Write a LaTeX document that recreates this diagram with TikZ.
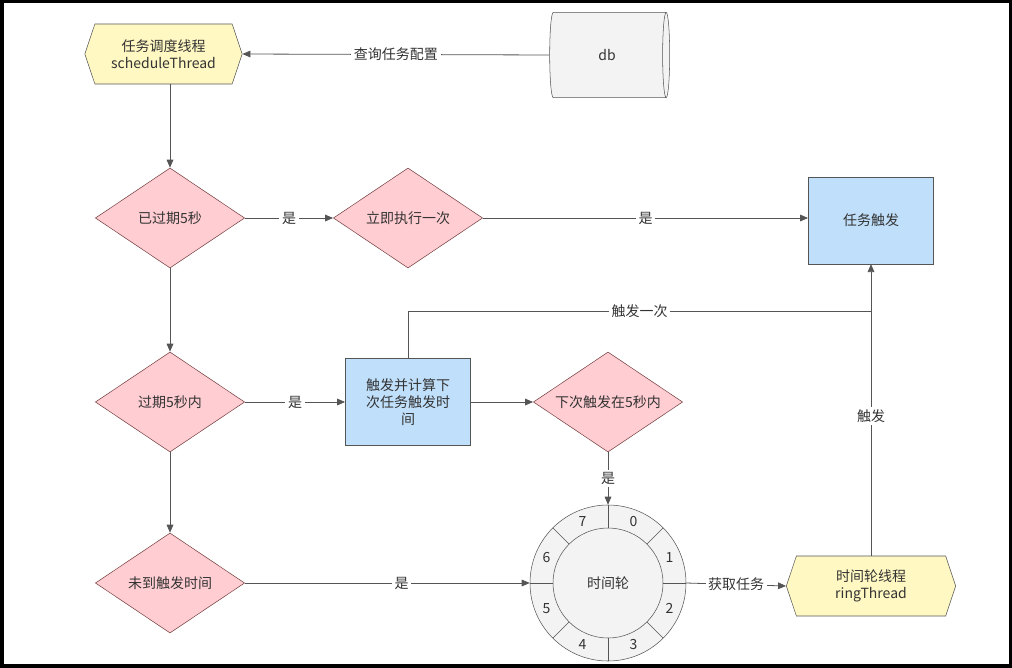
\documentclass[tikz,border=0pt]{standalone}
\usepackage{fontspec}
\setmainfont{Noto Sans CJK SC}
\usetikzlibrary{shapes.geometric,shapes.symbols,arrows.meta}
\definecolor{ln}{HTML}{555555}
\definecolor{ylw}{HTML}{FFF8C2}
\definecolor{pnk}{HTML}{FFCDD2}
\definecolor{blu}{HTML}{BFDFFA}
\definecolor{gry}{HTML}{F3F3F3}
\tikzset{
  every node/.style={font=\fontsize{10.5pt}{13pt}\selectfont, text=black!80},
  hexa/.style={draw=ln, fill=ylw, signal, signal to=east and west, signal pointer angle=143, minimum width=118pt, minimum height=45pt, inner sep=1pt, align=center},
  dia/.style={draw=ln!80!red, fill=pnk, diamond, aspect=1.5, minimum width=112pt, minimum height=75pt, inner sep=0pt, align=center},
  box/.style={draw=ln, fill=blu, minimum width=94pt, minimum height=65pt, align=center},
  arr/.style={draw=ln, -{Triangle[length=6pt,width=5pt]}, line width=0.6pt},
  lab/.style={fill=white, inner sep=2pt},
}
\begin{document}
\begin{tikzpicture}[x=0.75pt,y=-0.75pt]
\useasboundingbox (0,0) rectangle (1012,667);
\draw[line width=3pt] (1.5,1.5) rectangle (1010.5,665.5);
\node[hexa] (st) at (163.5,54) {任务调度线程\\scheduleThread};
% db cylinder
\node[draw=ln, fill=gry, cylinder, shape border rotate=0, aspect=0.35, minimum width=64pt, minimum height=90pt] (db) at (607,55) {db};
\node[dia] (d1) at (170,218) {已过期5秒};
\node[dia] (d2) at (408,218) {立即执行一次};
\node[box] (tk) at (871,220.5) {任务触发};
\node[dia] (d3) at (170,402) {过期5秒内};
\node[box] (r2) at (408,402) {触发并计算下\\次任务触发时\\间};
\node[dia] (d4) at (608,402) {下次触发在5秒内};
\node[dia] (d5) at (170,583) {未到触发时间};
% wheel
\node[circle, draw=ln, fill=gry, minimum size=117pt, inner sep=0pt] (wh) at (608,583) {};
\foreach \a in {0,45,...,315} \draw[ln] (608,583) ++(\a:55) -- ++(\a:23);
\node[circle, draw=ln, fill=gry, minimum size=82.5pt, inner sep=0pt] (whi) at (608,583) {时间轮};
\foreach \n/\a in {0/67.5,1/22.5,2/-22.5,3/-67.5,4/-112.5,5/-157.5,6/157.5,7/112.5}
  \node[inner sep=0pt] (w\n) at ([shift={(-\a:66.5)}]608,583) {\n};
\node[hexa, minimum width=127pt] (rt) at (871,586) {时间轮线程\\ringThread};
\coordinate (j) at (871,311);
\coordinate (k) at (408,311);
% edges
\draw[arr] (db.west) -- node[lab]{查询任务配置} (st.east);
\draw[arr] (st.south -| 170,0) -- (d1.north);
\draw[arr] (d1.east) -- node[lab]{是} (d2.west);
\draw[arr] (d2.east) -- node[lab]{是} (tk.west|-d2.east);
\draw[arr] (d1.south) -- (d3.north);
\draw[arr] (d3.east) -- node[lab]{是} (r2.west);
\draw[arr] (r2.east) -- (d4.west);
\draw[arr] (d4.south) -- node[lab]{是} (wh.north);
\draw[arr] (d3.south) -- (d5.north);
\draw[arr] (d5.east) -- node[lab, pos=0.55]{是} (wh.west);
\draw[arr] (wh.east) -- node[lab, pos=0.5]{获取任务} (rt.west);
\draw[arr] (rt.north) -- node[lab, pos=0.48]{触发} (tk.south);
\draw[ln, line width=0.6pt] (r2.north) -- (k) -- node[lab]{触发一次} (j);
\end{tikzpicture}
\end{document}
